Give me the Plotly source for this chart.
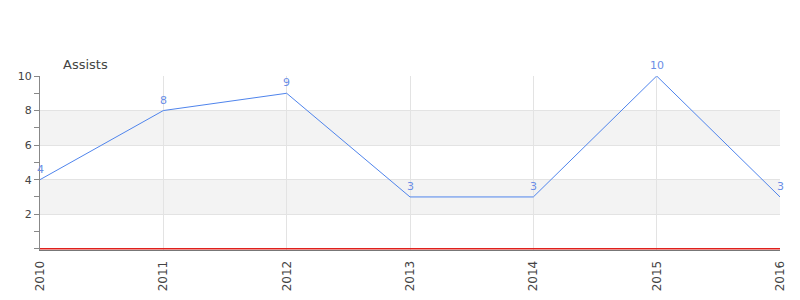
import plotly.graph_objects as go

years = [2010, 2011, 2012, 2013, 2014, 2015, 2016]
assists = [4, 8, 9, 3, 3, 10, 3]
y_ticks = [2, 4, 6, 8, 10]
bands = [(2, 4), (6, 8)]

fig = go.Figure()
fig.add_trace(go.Scatter(
    x=years, y=assists, mode="lines",
    line=dict(color="#4f84ec", width=1),
    cliponaxis=False, hoverinfo="skip",
))

annotations = [dict(x=x, y=v, xref="x", yref="y", text=str(v), showarrow=False,
                    yanchor="bottom", xanchor="center", yshift=2,
                    font=dict(family="DejaVu Sans", size=11, color="#6b8ee6"))
               for x, v in zip(years, assists)]
annotations.append(dict(text="Assists", xref="paper", yref="paper", x=0.029, y=1.0,
                        xanchor="left", yanchor="bottom", showarrow=False, yshift=2,
                        font=dict(family="DejaVu Sans", size=13, color="#444")))

for lo, hi in bands:
    fig.add_shape(type="rect", xref="paper", x0=0, x1=1, yref="y", y0=lo, y1=hi,
                  fillcolor="#f3f3f3", line_width=0, layer="below")
fig.add_shape(type="line", xref="paper", x0=0, x1=1, yref="y", y0=0, y1=0,
              line=dict(color="#e0201c", width=1.5), layer="above")

fig.update_layout(
    width=800, height=300,
    margin=dict(l=40, r=20, t=76, b=50),
    plot_bgcolor="white", paper_bgcolor="white",
    showlegend=False,
    font=dict(family="DejaVu Sans", size=11, color="#444"),
    annotations=annotations,
)
fig.update_xaxes(
    range=[years[0], years[-1]], tickvals=years, ticktext=[str(y) for y in years],
    tickangle=-90, showgrid=True, gridcolor="#e3e3e3", gridwidth=1,
    showline=True, linecolor="#777", linewidth=1, ticks="", zeroline=False,
    ticklabelstandoff=5, automargin=False,
    tickfont=dict(size=12, color="#444"),
)
fig.update_yaxes(
    range=[-0.07, 10], tickvals=y_ticks, showgrid=True, gridcolor="#e3e3e3",
    showline=True, linecolor="#888", linewidth=1, ticks="outside", ticklen=5,
    tickcolor="#888", zeroline=False, automargin=False,
    minor=dict(tickvals=[0, 1, 3, 5, 7, 9], ticks="outside", ticklen=5, tickcolor="#888", showgrid=False),
    tickfont=dict(size=11, color="#444"),
)

fig.write_html("out.html")
